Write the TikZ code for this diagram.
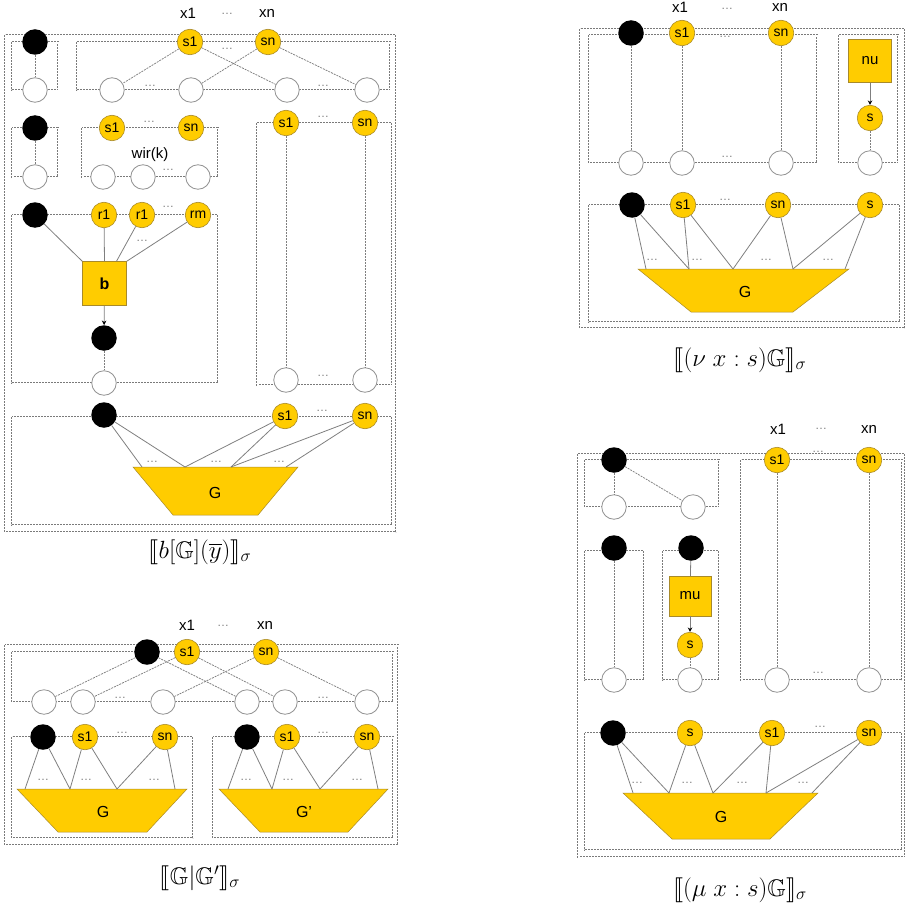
\documentclass[tikz,border=0pt]{standalone}
\usepackage{fontspec}
\setmainfont{Liberation Sans}
\usepackage{amssymb}
\usepackage{stmaryrd}
\usetikzlibrary{arrows.meta}
\definecolor{gold}{HTML}{FFCC00}
\definecolor{goldedge}{HTML}{A88A2A}
\definecolor{framegray}{HTML}{7A7A7A}
\definecolor{wiregray}{HTML}{7F7F7F}
\begin{document}
\begin{tikzpicture}[x=1pt,y=-1pt,
  blk/.style={circle, fill=black, minimum size=25.5pt, inner sep=0pt},
  ylw/.style={circle, fill=gold, draw=goldedge, line width=0.6pt, minimum size=25.5pt, inner sep=0pt, font=\fontsize{14}{14}\selectfont},
  emp/.style={circle, draw=gray!85, fill=white, line width=0.8pt, minimum size=24.5pt, inner sep=0pt},
  sq/.style={rectangle, fill=gold, draw=goldedge, line width=0.5pt, minimum size=44pt, inner sep=0pt, font=\fontsize{15}{16}\selectfont},
  dbox/.style={draw=framegray, line width=0.55pt, double=white, double distance=0.8pt, dash pattern=on 2pt off 1pt},
  wire/.style={draw=wiregray, line width=0.75pt, dash pattern=on 2pt off 1pt},
  link/.style={draw=wiregray, line width=0.8pt},
  arr/.style={link, -{Stealth[length=4.5pt,width=4.5pt,black]}},
  trap/.style={fill=gold, draw=goldedge, line width=0.5pt},
  dts/.style={font=\fontsize{12}{12}\selectfont, text=gray, inner sep=0pt},
  lbl/.style={font=\fontsize{15}{16}\selectfont, inner sep=0pt},
  glbl/.style={font=\fontsize{16}{17}\selectfont, inner sep=0pt},
  captxt/.style={font=\fontsize{24}{26}\selectfont, inner sep=0pt}]
\useasboundingbox (0,0) rectangle (909,904);

% ============ b[G](y) ============
\draw[dbox] (5,35) rectangle (396,532);
\draw[dbox] (12,42) rectangle (58,90);
\draw[dbox] (77,42) rectangle (390,90);
\draw[dbox] (12,128) rectangle (58,177);
\draw[dbox] (82,128) rectangle (218,177);
\draw[dbox] (257,123) rectangle (392,385);
\draw[dbox] (12,215) rectangle (218,383);
\draw[dbox] (12,417) rectangle (392,525);

\node[lbl] (ax1) at (188,13) {x1};
\node[dts] at (227,14) {\textellipsis};
\node[lbl] (axn) at (267,13) {xn};

\node[blk] (a1) at (35,42) {};
\node[emp] (a1e) at (35,90) {};
\node[ylw] (as1) at (190,42) {s1};
\node[ylw] (asn) at (268,42) {sn};
\node[dts] at (227,49) {\textellipsis};
\node[emp] (ap1) at (112,90) {};
\node[emp] (ap2) at (191,90) {};
\node[emp] (ap3) at (287,90) {};
\node[emp] (ap4) at (367,90) {};
\node[dts] at (150,86) {\textellipsis};
\node[dts] at (323,86) {\textellipsis};
\draw[wire] (a1) -- (a1e);
\draw[wire] (as1) -- (ap1);
\draw[wire] (as1) -- (ap3);
\draw[wire] (asn) -- (ap2);
\draw[wire] (asn) -- (ap4);

\node[blk] (a2) at (35,128) {};
\node[emp] (a2e) at (35,177) {};
\draw[wire] (a2) -- (a2e);
\node[ylw] (aw1) at (112,128) {s1};
\node[ylw] (awn) at (191,128) {sn};
\node[dts] at (149,122) {\textellipsis};
\node[lbl] (awir) at (150,155) {wir(k)};
\node[emp] (aw1e) at (103,177) {};
\node[emp] (aw2e) at (143,177) {};
\node[emp] (awne) at (198,177) {};
\node[dts] at (168,170) {\textellipsis};

\node[ylw] (at1) at (286,123) {s1};
\node[ylw] (atn) at (365,123) {sn};
\node[dts] at (323,117) {\textellipsis};
\node[emp] (at1e) at (286,380) {};
\node[emp] (atne) at (365,380) {};
\node[dts] at (323,376) {\textellipsis};
\draw[wire] (at1) -- (at1e);
\draw[wire] (atn) -- (atne);

\node[blk] (a3) at (35,215) {};
\node[ylw] (ar1) at (104,215) {r1};
\node[ylw] (ar2) at (142,215) {r1};
\node[ylw] (arm) at (198,215) {rm};
\node[dts] at (168,207) {\textellipsis};
\node[dts] at (142,241) {\textellipsis};
\node[sq, font=\fontsize{16}{17}\selectfont\bfseries] (ab) at (104.5,283.5) {b};
\node[blk] (a4) at (104,338) {};
\node[emp] (a4e) at (104,383) {};
\draw[link] (a3) -- (ab.north west);
\draw[link] (ar1) -- (ab.north);
\draw[link] (ar2) -- ([xshift=12pt]ab.north);
\draw[link] (arm) -- (ab.north east);
\draw[arr] (ab) -- (a4);
\draw[wire] (a4) -- (a4e);

\node[blk] (a5) at (104,415) {};
\node[ylw] (ag1) at (285,416) {s1};
\node[ylw] (agn) at (365,416) {sn};
\node[dts] at (322,411) {\textellipsis};
\draw[trap] (133,467) -- (298,467) -- (258,515) -- (173,515) -- cycle;
\node[glbl] (aG) at (215,493) {G};
\coordinate (ga) at (142,467);
\coordinate (gb) at (185,467);
\coordinate (gc) at (231,467);
\coordinate (gd) at (286,467);
\node[dts] at (152,462) {\textellipsis};
\node[dts] at (216,462) {\textellipsis};
\node[dts] at (279,462) {\textellipsis};
\draw[link] (a5) -- (ga);
\draw[link] (a5) -- (gb);
\draw[link] (ag1) -- (gb);
\draw[link] (ag1) -- (gc);
\draw[link] (agn) -- (gc);
\draw[link] (agn) -- (gd);

\node[captxt] (acap) at (200,552) {$\llbracket b[\mathbb{G}](\overline{y})\rrbracket_\sigma$};

% ============ G|G' ============
\draw[dbox] (5,645) rectangle (398,845);
\draw[dbox] (12,652) rectangle (393,702);
\draw[dbox] (12,737) rectangle (193,838);
\draw[dbox] (213,737) rectangle (393,838);

\node[lbl] (bx1) at (187,625) {x1};
\node[dts] at (223,626) {\textellipsis};
\node[lbl] (bxn) at (265,625) {xn};

\node[blk] (b0) at (147,652) {};
\node[ylw] (bs1) at (187,652) {s1};
\node[ylw] (bsn) at (266,652) {sn};
\node[emp] (bp1) at (44,702) {};
\node[emp] (bp2) at (83,702) {};
\node[emp] (bp3) at (163,702) {};
\node[emp] (bp4) at (247,702) {};
\node[emp] (bp5) at (285,702) {};
\node[emp] (bp6) at (367,702) {};
\node[dts] at (120,698) {\textellipsis};
\node[dts] at (323,698) {\textellipsis};
\draw[wire] (b0) -- (bp1);
\draw[wire] (b0) -- (bp4);
\draw[wire] (bs1) -- (bp2);
\draw[wire] (bs1) -- (bp5);
\draw[wire] (bsn) -- (bp3);
\draw[wire] (bsn) -- (bp6);

\node[blk] (bl0) at (43,737) {};
\node[ylw] (bl1) at (85,737) {s1};
\node[ylw] (bln) at (165,737) {sn};
\node[dts] at (122,733) {\textellipsis};
\draw[trap] (17,789) -- (187,789) -- (147,832) -- (58,832) -- cycle;
\node[glbl] (bG) at (103,812) {G};
\coordinate (ha) at (25,789);
\coordinate (hb) at (70,789);
\coordinate (hc) at (117,789);
\coordinate (hd) at (175,789);
\node[dts] at (43,780) {\textellipsis};
\node[dts] at (86,780) {\textellipsis};
\node[dts] at (154,780) {\textellipsis};
\draw[link] (bl0) -- (ha);
\draw[link] (bl0) -- (hb);
\draw[link] (bl1) -- (hb);
\draw[link] (bl1) -- (hc);
\draw[link] (bln) -- (hc);
\draw[link] (bln) -- (hd);

\node[blk] (br0) at (247,737) {};
\node[ylw] (br1) at (287,737) {s1};
\node[ylw] (brn) at (367,737) {sn};
\node[dts] at (323,733) {\textellipsis};
\draw[trap] (219,789) -- (388,789) -- (348,832) -- (260,832) -- cycle;
\node[glbl] (bG2) at (304,812) {G'};
\coordinate (ka) at (228,789);
\coordinate (kb) at (272,789);
\coordinate (kc) at (320,789);
\coordinate (kd) at (378,789);
\node[dts] at (246,780) {\textellipsis};
\node[dts] at (288,780) {\textellipsis};
\node[dts] at (357,780) {\textellipsis};
\draw[link] (br0) -- (ka);
\draw[link] (br0) -- (kb);
\draw[link] (br1) -- (kb);
\draw[link] (br1) -- (kc);
\draw[link] (brn) -- (kc);
\draw[link] (brn) -- (kd);

\node[captxt] (bcap) at (200,878) {$\llbracket \mathbb{G}|\mathbb{G}'\rrbracket_\sigma$};

% ============ (nu x:s)G ============
\draw[dbox] (580,29) rectangle (905,328);
\draw[dbox] (589,35) rectangle (817,163);
\draw[dbox] (839,35) rectangle (898,163);
\draw[dbox] (589,205) rectangle (900,322);

\node[lbl] (cx1) at (680,7) {x1};
\node[dts] at (727,9) {\textellipsis};
\node[lbl] (cxn) at (780,7) {xn};

\node[blk] (c0) at (631,33) {};
\node[ylw] (cs1) at (682,33) {s1};
\node[ylw] (csn) at (781,33) {sn};
\node[dts] at (725,37) {\textellipsis};
\node[emp] (c0e) at (631,163) {};
\node[emp] (cs1e) at (682,163) {};
\node[emp] (csne) at (781,163) {};
\node[dts] at (727,157) {\textellipsis};
\draw[wire] (c0) -- (c0e);
\draw[wire] (cs1) -- (cs1e);
\draw[wire] (csn) -- (csne);

\node[sq, minimum size=43pt] (cnu) at (870,61) {nu};
\node[ylw] (cs) at (870,118) {s};
\node[emp] (cse) at (870,163) {};
\draw[arr] (cnu) -- (cs);
\draw[wire] (cs) -- (cse);

\node[blk] (d0) at (632,205) {};
\node[ylw] (d1) at (683,205) {s1};
\node[ylw] (dn) at (778,205) {sn};
\node[ylw] (ds) at (870,205) {s};
\node[dts] at (725,200) {\textellipsis};
\draw[trap] (638,269) -- (849,269) -- (793,312) -- (691,312) -- cycle;
\node[glbl] (dG) at (745,292) {G};
\coordinate (ma) at (646,269);
\coordinate (mb) at (689,269);
\coordinate (mc) at (733,269);
\coordinate (md) at (793,269);
\coordinate (me) at (845,269);
\node[dts] at (652,260) {\textellipsis};
\node[dts] at (697,260) {\textellipsis};
\node[dts] at (766,260) {\textellipsis};
\node[dts] at (828,260) {\textellipsis};
\draw[link] (d0) -- (ma);
\draw[link] (d0) -- (mb);
\draw[link] (d1) -- (mb);
\draw[link] (d1) -- (mc);
\draw[link] (dn) -- (mc);
\draw[link] (dn) -- (md);
\draw[link] (ds) -- (md);
\draw[link] (ds) -- (me);

\node[captxt] (ccap) at (740,360) {$\llbracket (\nu\ x:s)\mathbb{G}\rrbracket_\sigma$};

% ============ (mu x:s)G ============
\draw[dbox] (578,454) rectangle (905,857);
\draw[dbox] (585,460) rectangle (719,507);
\draw[dbox] (741,460) rectangle (902,680);
\draw[dbox] (585,551) rectangle (644,680);
\draw[dbox] (663,551) rectangle (719,680);
\draw[dbox] (585,733) rectangle (902,850);

\node[lbl] (ex1) at (778,429) {x1};
\node[dts] at (821,429) {\textellipsis};
\node[lbl] (exn) at (869,429) {xn};

\node[blk] (e0) at (614,460) {};
\node[emp] (e0a) at (614,507) {};
\node[emp] (e0b) at (693,507) {};
\draw[wire] (e0) -- (e0a);
\draw[wire] (e0) -- (e0b);

\node[ylw] (es1) at (777,460) {s1};
\node[ylw] (esn) at (869,460) {sn};
\node[dts] at (818,452) {\textellipsis};
\node[emp] (es1e) at (777,680) {};
\node[emp] (esne) at (869,680) {};
\node[dts] at (818,673) {\textellipsis};
\draw[wire] (es1) -- (es1e);
\draw[wire] (esn) -- (esne);

\node[blk] (f0) at (614,548) {};
\node[emp] (f0e) at (614,680) {};
\draw[wire] (f0) -- (f0e);

\node[blk] (m0) at (691,548) {};
\node[sq, minimum width=42pt, minimum height=40pt] (mmu) at (690,596) {mu};
\node[ylw] (ms) at (690,645) {s};
\node[emp] (mse) at (690,680) {};
\draw[link] (m0) -- (mmu);
\draw[arr] (mmu) -- (ms);
\draw[wire] (ms) -- (mse);

\node[blk] (g0) at (613,733) {};
\node[ylw] (gs) at (690,733) {s};
\node[ylw] (g1) at (772,733) {s1};
\node[ylw] (gn) at (869,733) {sn};
\node[dts] at (820,727) {\textellipsis};
\draw[trap] (623,793) -- (818,793) -- (770,839) -- (672,839) -- cycle;
\node[glbl] (gG) at (721,817) {G};
\coordinate (na) at (633,793);
\coordinate (nb) at (669,793);
\coordinate (nc) at (713,793);
\coordinate (nd) at (766,793);
\coordinate (ne) at (812,793);
\node[dts] at (637,783) {\textellipsis};
\node[dts] at (687,783) {\textellipsis};
\node[dts] at (742,783) {\textellipsis};
\node[dts] at (803,783) {\textellipsis};
\draw[link] (g0) -- (na);
\draw[link] (g0) -- (nb);
\draw[link] (gs) -- (nb);
\draw[link] (gs) -- (nc);
\draw[link] (g1) -- (nc);
\draw[link] (g1) -- (nd);
\draw[link] (gn) -- (nd);
\draw[link] (gn) -- (ne);

\node[captxt] (gcap) at (740,890) {$\llbracket (\mu\ x:s)\mathbb{G}\rrbracket_\sigma$};
\end{tikzpicture}
\end{document}
